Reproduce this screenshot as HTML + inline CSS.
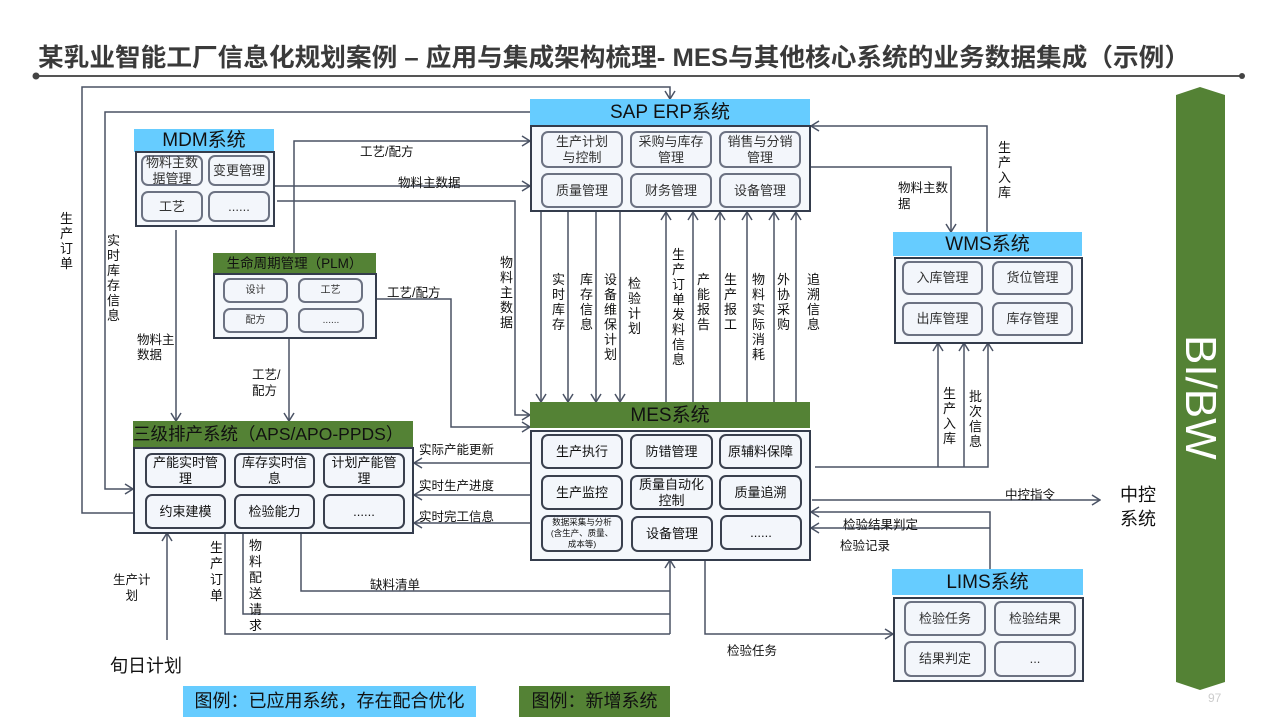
<!DOCTYPE html>
<html><head><meta charset="utf-8"><style>
body{margin:0;width:1280px;height:720px;overflow:hidden;background:#fff;font-family:"Liberation Sans","Noto Sans CJK SC",sans-serif;}
#w{position:relative;width:1280px;height:720px;}
.a{position:absolute;}
.hb{position:absolute;background:#66ccff;color:#111;text-align:center;font-size:19px;}
.hg{position:absolute;background:#548235;color:#111;text-align:center;font-size:19px;}
.bd{position:absolute;border:2.5px solid #343c4c;background:#f5f8fc;box-sizing:border-box;}
.ib{position:absolute;border:2px solid #6c7282;border-radius:7px;background:#f3f6fb;box-sizing:border-box;display:flex;align-items:center;justify-content:center;text-align:center;font-size:13px;line-height:16px;color:#333;}
.ibk{border-color:#3a404e;color:#111;}
.v{position:absolute;width:14px;font-size:13px;line-height:15px;word-break:break-all;color:#111;}
.l{position:absolute;font-size:12.5px;color:#111;white-space:nowrap;}
</style></head><body><div id="w">
<svg class="a" style="left:0;top:0" width="1280" height="720">
<defs><marker id="m" markerWidth="10" markerHeight="12" refX="9" refY="6" orient="auto" markerUnits="userSpaceOnUse"><path d="M1,1 L9,6 L1,11" fill="none" stroke="#4a5264" stroke-width="1.5"/></marker></defs>
<text x="38" y="66" font-size="25" font-weight="bold" fill="#3a3a3a" textLength="1152" lengthAdjust="spacingAndGlyphs" font-family="Liberation Sans,Noto Sans CJK SC,sans-serif">某乳业智能工厂信息化规划案例 – 应用与集成架构梳理- MES与其他核心系统的业务数据集成（示例）</text>
<line x1="36" y1="76" x2="1242" y2="76" stroke="#555" stroke-width="2"/>
<circle cx="36" cy="76" r="3.5" fill="#444"/><circle cx="1242" cy="76" r="3" fill="#444"/>
<path d="M1176,95 L1200,87 L1225,95 L1225,682 L1200,690 L1176,682 Z" fill="#548235"/>
<g fill="none" stroke="#4a5264" stroke-width="1.5">
<path d="M133,513 H82 V87 H670 V99" marker-end="url(#m)"/>
<path d="M530,112 H105 V489 H133" marker-end="url(#m)"/>
<path d="M294,253 V141 H530" marker-end="url(#m)"/>
<path d="M274,186 H530" marker-end="url(#m)"/>
<path d="M277,201 H515 V415 H530" marker-end="url(#m)"/>
<path d="M376,299 H451 V427 H530" marker-end="url(#m)"/>
<path d="M176,230 V421" marker-end="url(#m)"/>
<path d="M289,338 V421" marker-end="url(#m)"/>
<path d="M541,211 V402" marker-end="url(#m)"/>
<path d="M568,211 V402" marker-end="url(#m)"/>
<path d="M596,211 V402" marker-end="url(#m)"/>
<path d="M620,211 V402" marker-end="url(#m)"/>
<path d="M666,402 V212" marker-end="url(#m)"/>
<path d="M693,402 V212" marker-end="url(#m)"/>
<path d="M720,402 V212" marker-end="url(#m)"/>
<path d="M747,402 V212" marker-end="url(#m)"/>
<path d="M774,402 V212" marker-end="url(#m)"/>
<path d="M796,402 V212" marker-end="url(#m)"/>
<path d="M987,232 V126 H811" marker-end="url(#m)"/>
<path d="M810,167 H951 V232" marker-end="url(#m)"/>
<path d="M815,467 H988 V343" marker-end="url(#m)"/>
<path d="M938,467 V343" marker-end="url(#m)"/>
<path d="M964,467 V343" marker-end="url(#m)"/>
<path d="M530,463 H414" marker-end="url(#m)"/>
<path d="M530,495 H414" marker-end="url(#m)"/>
<path d="M530,523 H414" marker-end="url(#m)"/>
<path d="M812,500 H1100" marker-end="url(#m)"/>
<path d="M990,569 V512 H811" marker-end="url(#m)"/>
<path d="M990,528 H811" marker-end="url(#m)"/>
<path d="M225,533 V634 H670"/>
<path d="M243,533 V614 H670"/>
<path d="M301,533 V591 H670"/>
<path d="M670,634 V560" marker-end="url(#m)"/>
<path d="M167,640 V533" marker-end="url(#m)"/>
<path d="M705,560 V634 H893" marker-end="url(#m)"/>
</g>
</svg>

<!-- MDM -->
<div class="hb" style="left:134px;top:129px;width:140px;height:23px;line-height:24px;">MDM系统</div>
<div class="bd" style="left:135px;top:151px;width:140px;height:76px;"></div>
<div class="ib" style="left:141px;top:155px;width:62px;height:31px;">物料主数<br>据管理</div>
<div class="ib" style="left:208px;top:155px;width:62px;height:31px;">变更管理</div>
<div class="ib" style="left:141px;top:191px;width:62px;height:31px;">工艺</div>
<div class="ib" style="left:208px;top:191px;width:62px;height:31px;">......</div>

<!-- PLM -->
<div class="hg" style="left:213px;top:253px;width:163px;height:20px;line-height:21px;font-size:13.5px;">生命周期管理（PLM）</div>
<div class="bd" style="left:213px;top:273px;width:164px;height:66px;"></div>
<div class="ib" style="left:223px;top:278px;width:65px;height:25px;font-size:10px;">设计</div>
<div class="ib" style="left:298px;top:278px;width:65px;height:25px;font-size:10px;">工艺</div>
<div class="ib" style="left:223px;top:308px;width:65px;height:25px;font-size:10px;">配方</div>
<div class="ib" style="left:298px;top:308px;width:66px;height:25px;font-size:10px;">......</div>

<!-- SAP -->
<div class="hb" style="left:530px;top:99px;width:280px;height:26px;line-height:27px;">SAP ERP系统</div>
<div class="bd" style="left:530px;top:125px;width:281px;height:87px;"></div>
<div class="ib" style="left:541px;top:131px;width:82px;height:37px;">生产计划<br>与控制</div>
<div class="ib" style="left:630px;top:131px;width:82px;height:37px;">采购与库存<br>管理</div>
<div class="ib" style="left:719px;top:131px;width:82px;height:37px;">销售与分销<br>管理</div>
<div class="ib" style="left:541px;top:173px;width:82px;height:35px;">质量管理</div>
<div class="ib" style="left:630px;top:173px;width:82px;height:35px;">财务管理</div>
<div class="ib" style="left:719px;top:173px;width:82px;height:35px;">设备管理</div>

<!-- WMS -->
<div class="hb" style="left:893px;top:232px;width:189px;height:24px;line-height:25px;">WMS系统</div>
<div class="bd" style="left:894px;top:257px;width:189px;height:87px;"></div>
<div class="ib" style="left:902px;top:261px;width:81px;height:34px;">入库管理</div>
<div class="ib" style="left:992px;top:261px;width:81px;height:34px;">货位管理</div>
<div class="ib" style="left:902px;top:302px;width:81px;height:34px;">出库管理</div>
<div class="ib" style="left:992px;top:302px;width:81px;height:34px;">库存管理</div>

<!-- MES -->
<div class="hg" style="left:530px;top:402px;width:280px;height:26px;line-height:27px;">MES系统</div>
<div class="bd" style="left:530px;top:430px;width:281px;height:131px;"></div>
<div class="ib ibk" style="left:541px;top:434px;width:82px;height:35px;">生产执行</div>
<div class="ib ibk" style="left:630px;top:434px;width:83px;height:35px;">防错管理</div>
<div class="ib ibk" style="left:719px;top:434px;width:83px;height:35px;">原辅料保障</div>
<div class="ib ibk" style="left:541px;top:475px;width:82px;height:35px;">生产监控</div>
<div class="ib ibk" style="left:630px;top:475px;width:83px;height:35px;">质量自动化<br>控制</div>
<div class="ib ibk" style="left:719px;top:475px;width:83px;height:35px;">质量追溯</div>
<div class="ib ibk" style="left:541px;top:515px;width:82px;height:37px;font-size:8.5px;line-height:11px;">数据采集与分析<br>(含生产、质量、<br>成本等)</div>
<div class="ib ibk" style="left:631px;top:516px;width:82px;height:36px;">设备管理</div>
<div class="ib ibk" style="left:720px;top:515px;width:82px;height:35px;">......</div>

<!-- APS -->
<div class="hg" style="left:133px;top:421px;width:280px;height:26px;line-height:27px;font-size:17.5px;white-space:nowrap;text-align:left;">三级排产系统（APS/APO-PPDS）</div>
<div class="bd" style="left:133px;top:447px;width:281px;height:87px;"></div>
<div class="ib ibk" style="left:145px;top:453px;width:81px;height:35px;">产能实时管<br>理</div>
<div class="ib ibk" style="left:234px;top:453px;width:81px;height:35px;">库存实时信<br>息</div>
<div class="ib ibk" style="left:323px;top:453px;width:82px;height:35px;">计划产能管<br>理</div>
<div class="ib ibk" style="left:145px;top:494px;width:81px;height:35px;">约束建模</div>
<div class="ib ibk" style="left:234px;top:494px;width:81px;height:35px;">检验能力</div>
<div class="ib ibk" style="left:323px;top:494px;width:82px;height:35px;">......</div>

<!-- LIMS -->
<div class="hb" style="left:892px;top:569px;width:191px;height:26px;line-height:27px;">LIMS系统</div>
<div class="bd" style="left:893px;top:597px;width:191px;height:85px;"></div>
<div class="ib" style="left:904px;top:601px;width:82px;height:35px;">检验任务</div>
<div class="ib" style="left:994px;top:601px;width:82px;height:35px;">检验结果</div>
<div class="ib" style="left:904px;top:641px;width:82px;height:36px;">结果判定</div>
<div class="ib" style="left:994px;top:641px;width:82px;height:36px;">...</div>

<!-- BI -->
<div class="a" style="left:1150px;top:360px;width:100px;height:50px;transform:rotate(90deg);color:#fff;font-size:44px;text-align:center;line-height:50px;">BI/BW</div>

<!-- labels -->
<div class="l" style="left:360px;top:141px;">工艺/配方</div>
<div class="l" style="left:398px;top:172px;">物料主数据</div>
<div class="l" style="left:387px;top:282px;">工艺/配方</div>
<div class="l" style="left:137px;top:333px;line-height:15px;">物料主<br>数据</div>
<div class="l" style="left:252px;top:367px;line-height:16px;">工艺/<br>配方</div>
<div class="v" style="left:60px;top:211px;">生产订单</div>
<div class="v" style="left:107px;top:233px;">实时库存信息</div>
<div class="v" style="left:500px;top:255px;">物料主数据</div>
<div class="v" style="left:552px;top:272px;">实时库存</div>
<div class="v" style="left:580px;top:272px;">库存信息</div>
<div class="v" style="left:604px;top:272px;">设备维保计划</div>
<div class="v" style="left:628px;top:276px;">检验计划</div>
<div class="v" style="left:672px;top:247px;">生产订单发料信息</div>
<div class="v" style="left:697px;top:272px;">产能报告</div>
<div class="v" style="left:724px;top:272px;">生产报工</div>
<div class="v" style="left:752px;top:272px;">物料实际消耗</div>
<div class="v" style="left:777px;top:272px;">外协采购</div>
<div class="v" style="left:807px;top:272px;">追溯信息</div>
<div class="v" style="left:998px;top:140px;">生产入库</div>
<div class="l" style="left:898px;top:180px;line-height:16px;">物料主数<br>据</div>
<div class="v" style="left:943px;top:386px;">生产入库</div>
<div class="v" style="left:969px;top:389px;">批次信息</div>
<div class="l" style="left:419px;top:439px;">实际产能更新</div>
<div class="l" style="left:419px;top:475px;">实时生产进度</div>
<div class="l" style="left:419px;top:506px;">实时完工信息</div>
<div class="l" style="left:1005px;top:484px;">中控指令</div>
<div class="l" style="left:843px;top:514px;">检验结果判定</div>
<div class="l" style="left:840px;top:535px;">检验记录</div>
<div class="a" style="left:1120px;top:483px;font-size:18px;line-height:24px;color:#111;">中控<br>系统</div>
<div class="l" style="left:113px;top:572px;line-height:16px;text-align:center;">生产计<br>划</div>
<div class="v" style="left:210px;top:540px;line-height:16px;">生产订单</div>
<div class="v" style="left:249px;top:538px;line-height:16px;">物料配送请求</div>
<div class="l" style="left:370px;top:574px;">缺料清单</div>
<div class="l" style="left:727px;top:640px;">检验任务</div>
<div class="a" style="left:110px;top:652px;font-size:18px;color:#111;">旬日计划</div>
<div class="a" style="left:183px;top:686px;width:293px;height:31px;background:#66ccff;font-size:18px;line-height:31px;color:#111;text-align:center;">图例：已应用系统，存在配合优化</div>
<div class="a" style="left:519px;top:686px;width:151px;height:31px;background:#548235;font-size:18px;line-height:31px;color:#111;text-align:center;">图例：新增系统</div>
<div class="a" style="left:1208px;top:691px;font-size:12px;color:#ccc;">97</div>
</div></body></html>
